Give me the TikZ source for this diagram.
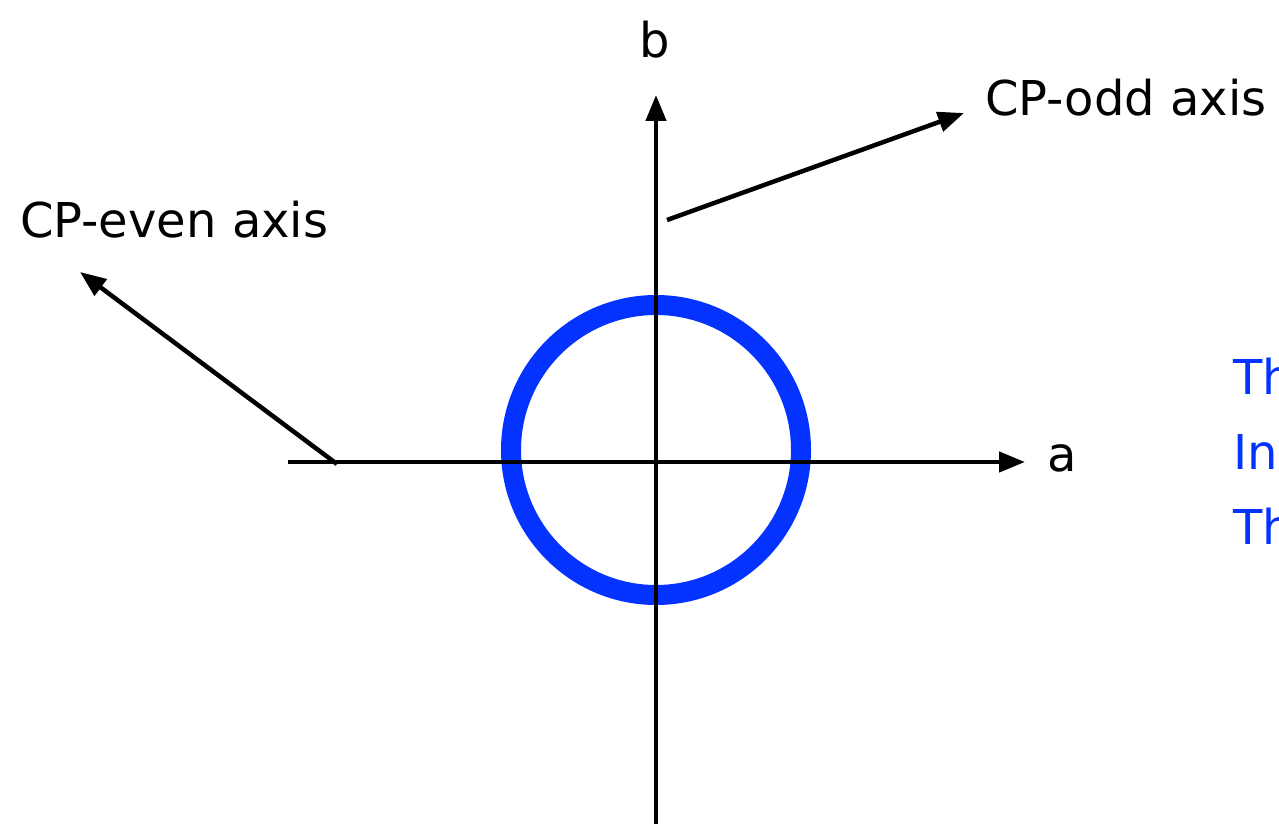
\documentclass[tikz,border=0pt]{standalone}
\usepackage{fontspec}
\setmainfont{DejaVu Sans}
\usetikzlibrary{arrows.meta}
\definecolor{ringblue}{RGB}{4,51,255}
\tikzset{
  axisline/.style={line width=4.5pt, -{Triangle[length=26pt,width=20pt]}},
  lbl/.style={font=\fontsize{48}{56}\selectfont, inner sep=0pt},
  bluelbl/.style={lbl, text=ringblue, anchor=west}
}
\begin{document}
\begin{tikzpicture}[x=1pt,y=-1pt]
\useasboundingbox (0,0) rectangle (1279,824);
\fill[white] (0,0) rectangle (1279,824);
% coordinates
\coordinate (hstart) at (288,462);
\coordinate (hend) at (1025,462);
\coordinate (vstart) at (656,824);
\coordinate (vend) at (656,95);
\coordinate (oddstart) at (667,220);
\coordinate (oddend) at (964,113);
\coordinate (evenstart) at (337,464);
\coordinate (evenend) at (80,272);
\coordinate (ctr) at (656,450);
% ring
\draw[ringblue, line width=20pt] (ctr) circle (145);
% axes
\draw[axisline] (hstart) -- (hend);
\draw[axisline] (vstart) -- (vend);
\draw[axisline] (oddstart) -- (oddend);
\draw[axisline] (evenstart) -- (evenend);
% labels
\node[lbl] (a) at (1062,458) {a};
\node[lbl] (b) at (655,40) {b};
\node[lbl, anchor=west] (odd) at (985,98) {CP-odd axis};
\node[lbl, anchor=west] (even) at (20,220) {CP-even axis};
\begin{scope}
\clip (0,0) rectangle (1279,824);
\node[bluelbl] (t1) at (1233,376) {Th};
\node[bluelbl] (t2) at (1233,452) {In};
\node[bluelbl] (t3) at (1233,526) {Th};
\end{scope}
\end{tikzpicture}
\end{document}
